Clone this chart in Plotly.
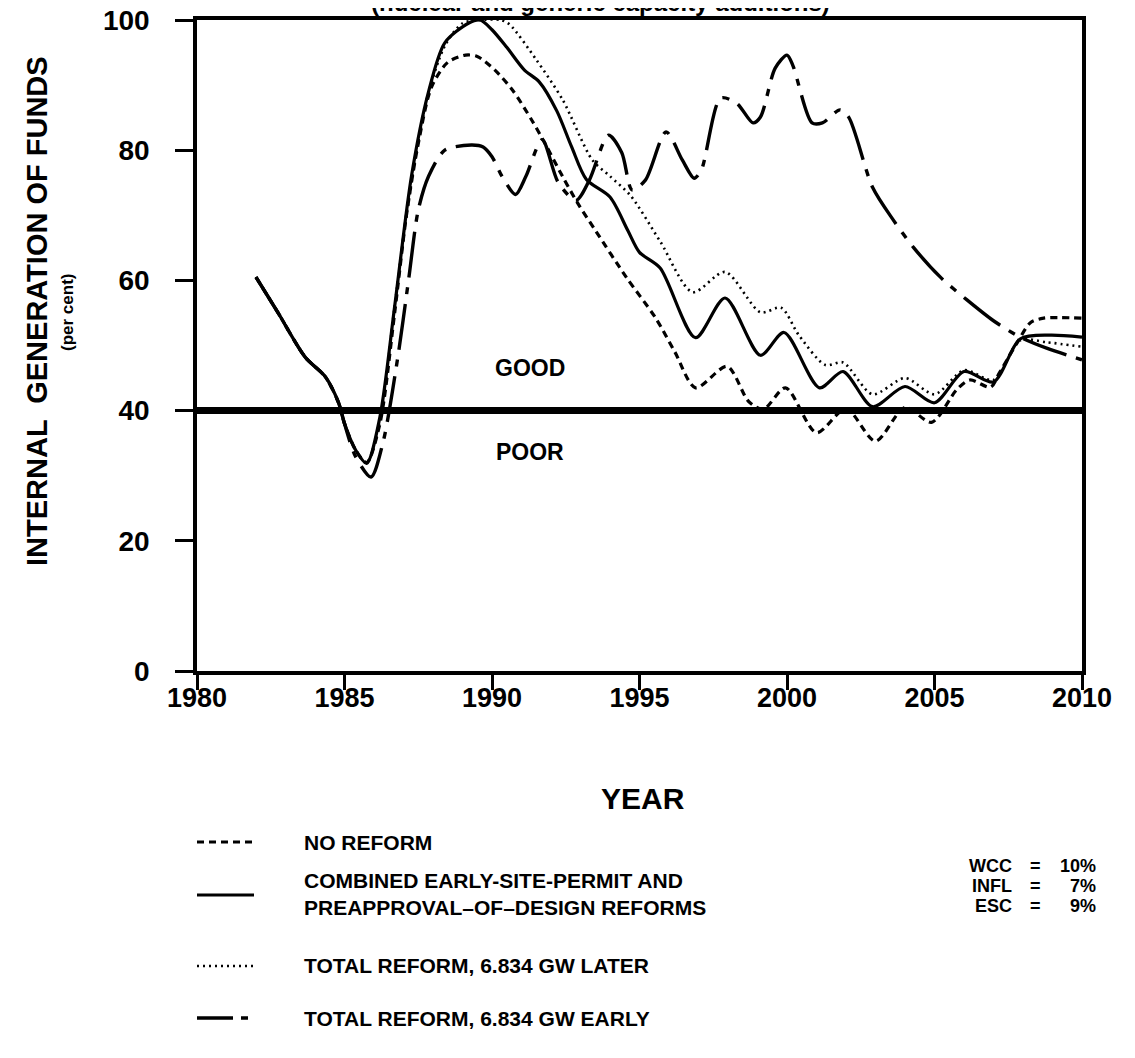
import plotly.graph_objects as go

# ---------------- data ----------------
no_reform_years = [1982.0, 1982.75, 1983.67, 1984.35, 1984.8, 1985.0, 1985.37, 1985.75, 1986.2, 1986.7,
                   1987.1, 1987.5, 1987.95, 1988.5, 1989.1, 1989.5, 1990.1, 1990.7, 1991.35, 1991.8,
                   1992.4, 1992.9, 1993.5, 1994.55, 1995.55, 1996.2, 1996.9, 1997.97, 1998.7, 1999.2,
                   1999.95, 2001.0, 2002.0, 2003.0, 2004.0, 2004.9, 2005.75, 2006.2, 2006.9, 2007.2,
                   2007.8, 2008.25, 2008.7, 2010.0]
no_reform_vals = [60.5, 55, 48.2, 45.2, 41.2, 38, 34, 32, 38, 55,
                  70, 81, 89.7, 93.5, 94.6, 94.4, 92.3, 89.2, 84.6, 81,
                  75.9, 71.9, 67.7, 60.5, 54.2, 49, 43.5, 46.8, 41.4, 40.2,
                  43.5, 36.6, 40.3, 35.3, 40.5, 38.2, 43.2, 44.7, 43.6, 45.8,
                  50.4, 53.5, 54.2, 54.2]

combined_years = [1982.0, 1982.75, 1983.67, 1984.35, 1984.8, 1985.0, 1985.37, 1985.75, 1986.2, 1986.7,
                  1987.27, 1987.85, 1988.4, 1989.2, 1989.6, 1990.0, 1990.5, 1991.1, 1991.6, 1992.2,
                  1992.7, 1993.2, 1994.0, 1994.6, 1995.0, 1995.7, 1996.9, 1997.9, 1999.1, 1999.9,
                  2001.1, 2001.9, 2002.9, 2004.0, 2005.0, 2006.0, 2007.0, 2007.9, 2008.9, 2010.0]
combined_vals = [60.5, 55, 48.2, 45.2, 41.2, 38, 34, 31.9, 39, 56,
                 76, 89, 96.5, 99.5, 100, 98.5, 95.8, 92.3, 90.5, 86,
                 80.5, 75.5, 72.8, 67.7, 64.3, 61.9, 51.2, 57.3, 48.5, 52,
                 43.5, 46, 40.6, 43.7, 41.2, 46, 44.4, 51, 51.6, 51.3]

later_years = [1982.0, 1982.75, 1983.67, 1984.35, 1984.8, 1985.0, 1985.37, 1985.75, 1986.2, 1986.7,
               1987.2, 1987.8, 1988.4, 1989.0, 1989.6, 1990.3, 1990.6, 1991.5, 1992.4, 1993.4,
               1994.0, 1994.7, 1995.7, 1996.8, 1997.9, 1999.1, 1999.8, 2000.4, 2001.3, 2001.9,
               2002.9, 2004.0, 2005.0, 2006.0, 2007.0, 2007.9, 2008.8, 2010.0]
later_vals = [60.5, 55, 48.2, 45.2, 41.2, 38, 34, 32, 38.5, 56,
              73, 88, 96, 99.5, 100, 100, 99.3, 93.9, 87.7, 78.5,
              76, 73, 66, 58.2, 61.3, 55.1, 55.8, 51.6, 47, 47.4,
              42.5, 45, 42.5, 46.2, 44.7, 50.8, 50.5, 49.8]

early_years = [1982.0, 1982.75, 1983.67, 1984.35, 1984.8, 1985.0, 1985.37, 1985.9, 1986.3, 1986.8,
               1987.17, 1987.5, 1987.85, 1988.4, 1989.3, 1989.7, 1990.0, 1990.35, 1990.8, 1991.15,
               1991.7, 1992.25, 1992.85, 1993.3, 1993.95, 1994.4, 1994.75, 1995.2, 1995.9, 1996.45,
               1996.85, 1997.1, 1997.75, 1998.3, 1998.85, 1999.1, 1999.6, 2000.0, 2000.2, 2000.85,
               2001.2, 2001.8, 2002.1, 2002.9, 2003.6, 2004.3, 2005.2, 2006.1, 2007.0, 2007.9,
               2008.8, 2010.0]
early_vals = [60.5, 55, 48.2, 45.2, 41.2, 38, 33, 29.8, 35, 48,
              60, 70.8, 76, 80, 80.8, 80.5, 79, 75.9, 73.2, 76,
              81.6, 75, 72.3, 75.4, 82.3, 79.6, 73.9, 75.4, 82.8, 78.5,
              75.7, 77, 88, 87.2, 84.2, 85.1, 92.6, 94.6, 93, 84.2,
              84.2, 86.2, 85, 74.3, 69.3, 65, 60.5, 57, 53.8, 51.3,
              49.6, 47.8]

threshold = 40
x_ticks = [1980, 1985, 1990, 1995, 2000, 2005, 2010]
y_ticks = [0, 20, 40, 60, 80, 100]

legend_labels = ["NO REFORM",
                 "COMBINED EARLY-SITE-PERMIT AND<br>PREAPPROVAL\u2013OF\u2013DESIGN REFORMS",
                 "TOTAL REFORM, 6.834 GW LATER",
                 "TOTAL REFORM, 6.834 GW EARLY"]
param_names = ["WCC", "INFL", "ESC"]
param_vals = ["10%", "7%", "9%"]

# ---------------- styling ----------------
OFF = 8                      # page body margin offset
W, H = 1135 - OFF, 1058 - OFF
PL, PR, PT, PB = 197, 1082, 20, 671   # plot box in page pixels
L, T = PL - OFF, PT - OFF
R = W - (PR - OFF)
B = H - (PB - OFF)
FONT = "Liberation Sans, Arial"
BLACK = "#000000"

styles = [
    dict(dash="7px,5px", width=3.2),             # no reform
    dict(dash="solid", width=3.2),               # combined
    dict(dash="2px,4px", width=2.6),             # later
    dict(dash="46px,10px,7px,10px", width=3.4),  # early
]

series = [(no_reform_years, no_reform_vals), (combined_years, combined_vals),
          (later_years, later_vals), (early_years, early_vals)]

fig = go.Figure()
for (xs, ys), st, name in zip(series, styles, legend_labels):
    fig.add_trace(go.Scatter(x=xs, y=ys, mode="lines", name=name, showlegend=False,
                             line=dict(color=BLACK, width=st["width"], dash=st["dash"],
                                       shape="spline", smoothing=0.8)))

# GOOD / POOR threshold line
fig.add_shape(type="line", xref="x", yref="y", x0=x_ticks[0], x1=x_ticks[-1],
              y0=threshold, y1=threshold, line=dict(color=BLACK, width=7))

fig.add_annotation(x=1991.3, y=46.5, xref="x", yref="y", text="GOOD", showarrow=False,
                   xanchor="center", yanchor="middle",
                   font=dict(family=FONT, size=23, color=BLACK, weight="bold"))
fig.add_annotation(x=1991.3, y=33.6, xref="x", yref="y", text="POOR", showarrow=False,
                   xanchor="center", yanchor="middle",
                   font=dict(family=FONT, size=23, color=BLACK, weight="bold"))

pw = PR - PL
ph = PB - PT


def px2paper(px, py):
    return (px - PL) / pw, (PB - py) / ph


def note(px, py, text, size, xanchor="center", angle=0, align="center"):
    x, y = px2paper(px, py)
    fig.add_annotation(x=x, y=y, xref="paper", yref="paper", text=text, showarrow=False,
                       xanchor=xanchor, yanchor="middle", textangle=angle, align=align,
                       font=dict(family=FONT, size=size, color=BLACK, weight="bold"))


# cut-off title at top (only its lower part shows, as in the source)
note(600, 3, "(nuclear and generic capacity additions)", 24)
# axis titles
note(37, 311, "INTERNAL  GENERATION OF FUNDS", 29, angle=-90)
note(67, 313, "(per cent)", 17, angle=-90)
note(643, 798, "YEAR", 30)

# custom legend
leg_rows_line = [842, 895, 966, 1018]
leg_rows_text = [842, 894, 965, 1018]
for i, (lab, st) in enumerate(zip(legend_labels, styles)):
    x0, y0 = px2paper(197, leg_rows_line[i])
    x1, _ = px2paper(254, leg_rows_line[i])
    fig.add_shape(type="line", xref="paper", yref="paper", x0=x0, x1=x1, y0=y0, y1=y0,
                  line=dict(color=BLACK, width=st["width"],
                            dash=st["dash"] if i != 3 else "36px,8px,7px"))
    note(302, leg_rows_text[i], lab, 21, xanchor="left", align="left")

# parameter block
for i, (nm, vl) in enumerate(zip(param_names, param_vals)):
    py = 866 + 20 * i
    note(1014, py, nm, 18, xanchor="right")
    note(1035, py, "=", 18)
    note(1098, py, vl, 18, xanchor="right")

fig.update_xaxes(range=[x_ticks[0], x_ticks[-1]], tickvals=x_ticks, ticktext=[str(t) for t in x_ticks],
                 showgrid=False, zeroline=False, showline=True, linecolor=BLACK, linewidth=3.5,
                 mirror=True, ticks="outside", ticklen=15, tickwidth=3, tickcolor=BLACK,
                 ticklabelstandoff=-15, ticklabeloverflow="allow",
                 tickfont=dict(family=FONT, size=27, color=BLACK, weight="bold"))
fig.update_yaxes(range=[0, 100], tickvals=y_ticks, showgrid=False, zeroline=False, showline=True,
                 linecolor=BLACK, linewidth=3.5, mirror=True, ticks="outside", ticklen=18,
                 tickwidth=3, tickcolor=BLACK, ticklabelstandoff=20, ticklabeloverflow="allow",
                 tickfont=dict(family=FONT, size=28, color=BLACK, weight="bold"))

fig.update_layout(width=W, height=H, margin=dict(l=L, r=R, t=T, b=B, autoexpand=False),
                  plot_bgcolor="white", paper_bgcolor="white", showlegend=False)

fig.write_html("out.html")
